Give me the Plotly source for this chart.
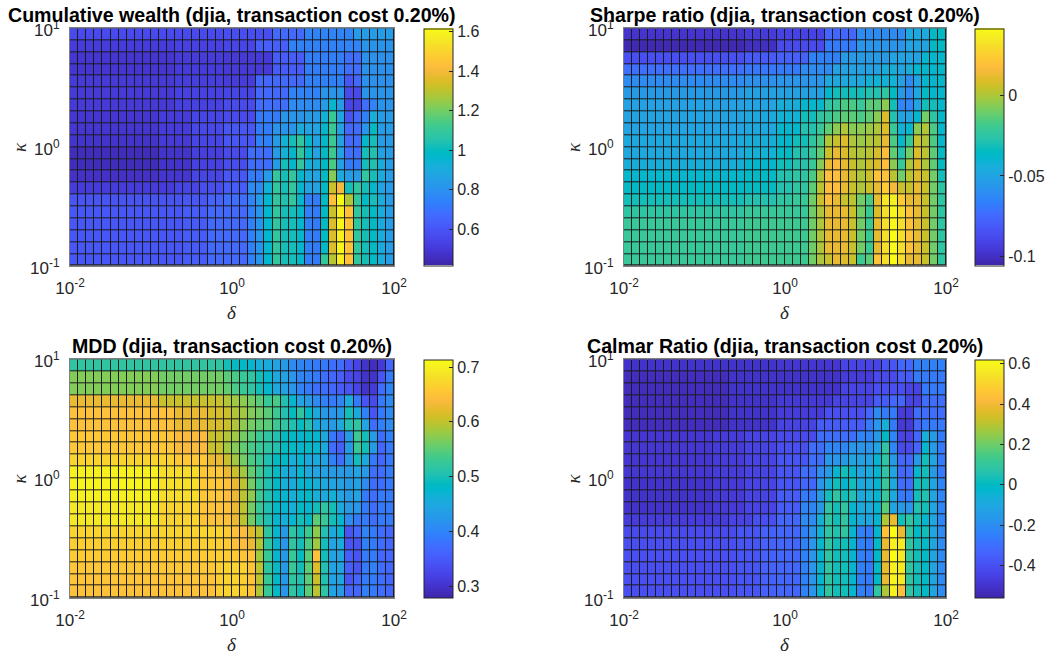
import plotly.graph_objects as go

# ---------------- data ----------------
DELTA_EDGES = [0.01, 0.012589, 0.015849, 0.019953, 0.025119, 0.031623, 0.039811, 0.050119, 0.063096, 0.079433,
               0.1, 0.12589, 0.15849, 0.19953, 0.25119, 0.31623, 0.39811, 0.50119, 0.63096, 0.79433,
               1.0, 1.2589, 1.5849, 1.9953, 2.5119, 3.1623, 3.9811, 5.0119, 6.3096, 7.9433,
               10.0, 12.589, 15.849, 19.953, 25.119, 31.623, 39.811, 50.119, 63.096, 79.433, 100.0]
KAPPA_EDGES = [0.1, 0.12589, 0.15849, 0.19953, 0.25119, 0.31623, 0.39811, 0.50119, 0.63096, 0.79433,
               1.0, 1.2589, 1.5849, 1.9953, 2.5119, 3.1623, 3.9811, 5.0119, 6.3096, 7.9433, 10.0]

X_TICKS = [0.01, 1, 100]
X_TICKTEXT = ["10<sup>-2</sup>", "10<sup>0</sup>", "10<sup>2</sup>"]
Y_TICKS = [0.1, 1, 10]
Y_TICKTEXT = ["10<sup>-1</sup>", "10<sup>0</sup>", "10<sup>1</sup>"]

TITLES = ["Cumulative wealth (djia, transaction cost 0.20%)",
          "Sharpe ratio (djia, transaction cost 0.20%)",
          "MDD (djia, transaction cost 0.20%)",
          "Calmar Ratio (djia, transaction cost 0.20%)"]

# rows: kappa from 0.1 (bottom) to 10 (top); columns: delta from 0.01 to 100
WEALTH = [
 [0.60,0.60,0.60,0.60,0.60,0.60,0.60,0.60,0.60,0.60, 0.60,0.60,0.60,0.60,0.62,0.62,0.62,0.66,0.66,0.66, 0.66,0.66,0.74,0.81,0.96,1.08,1.02,1.02,0.96,0.74, 0.72,1.08,1.29,1.58,1.44,1.08,1.02,0.98,0.90,0.84],
 [0.60,0.60,0.60,0.60,0.60,0.60,0.60,0.60,0.60,0.60, 0.60,0.60,0.60,0.60,0.62,0.62,0.62,0.66,0.66,0.66, 0.66,0.66,0.74,0.81,0.96,1.08,1.02,1.02,0.96,0.74, 0.72,0.98,1.35,1.60,1.44,1.08,1.02,0.98,0.90,0.84],
 [0.60,0.60,0.60,0.60,0.60,0.60,0.60,0.60,0.60,0.60, 0.60,0.60,0.60,0.60,0.62,0.62,0.62,0.66,0.66,0.66, 0.66,0.66,0.74,0.81,0.96,1.08,1.02,1.02,0.96,0.74, 0.72,0.98,1.35,1.58,1.44,1.08,1.02,0.98,0.90,0.84],
 [0.60,0.60,0.60,0.60,0.60,0.60,0.60,0.60,0.60,0.60, 0.60,0.60,0.60,0.60,0.62,0.62,0.62,0.66,0.66,0.66, 0.66,0.66,0.74,0.81,0.96,1.08,1.02,1.02,0.96,0.74, 0.72,0.98,1.35,1.60,1.44,1.08,1.02,0.98,0.90,0.84],
 [0.60,0.60,0.60,0.60,0.60,0.60,0.60,0.60,0.60,0.60, 0.60,0.60,0.60,0.60,0.62,0.62,0.62,0.66,0.66,0.66, 0.66,0.66,0.74,0.81,0.96,1.08,1.02,1.02,0.96,0.74, 0.72,0.98,1.32,1.58,1.44,1.08,1.02,0.98,0.90,0.84],
 [0.59,0.59,0.59,0.59,0.59,0.59,0.59,0.59,0.59,0.59, 0.59,0.59,0.59,0.59,0.60,0.60,0.60,0.64,0.64,0.68, 0.68,0.68,0.75,0.84,0.96,1.08,1.04,1.08,0.96,0.74, 0.72,0.98,1.44,1.61,1.28,1.08,0.98,1.02,0.90,0.84],
 [0.51,0.51,0.51,0.51,0.51,0.51,0.51,0.51,0.51,0.51, 0.51,0.51,0.51,0.54,0.54,0.54,0.57,0.57,0.57,0.62, 0.62,0.62,0.78,0.78,0.93,1.08,1.02,1.08,0.96,0.87, 0.87,0.98,1.32,1.40,1.02,1.08,1.02,0.96,0.87,0.84],
 [0.47,0.47,0.47,0.47,0.47,0.47,0.47,0.47,0.47,0.47, 0.47,0.49,0.49,0.49,0.49,0.54,0.54,0.54,0.54,0.60, 0.60,0.60,0.72,0.72,0.84,1.08,1.02,1.08,0.96,0.90, 0.87,0.98,1.22,0.90,0.84,0.84,1.08,1.02,0.90,0.84],
 [0.45,0.45,0.45,0.45,0.45,0.45,0.45,0.45,0.45,0.45, 0.45,0.48,0.48,0.48,0.48,0.53,0.53,0.53,0.53,0.57, 0.57,0.57,0.68,0.68,0.68,0.84,1.02,0.96,1.08,0.93, 0.90,0.98,1.14,0.86,0.72,0.72,1.02,1.04,0.90,0.84],
 [0.45,0.45,0.45,0.45,0.45,0.45,0.45,0.45,0.45,0.45, 0.45,0.48,0.48,0.48,0.48,0.52,0.52,0.52,0.52,0.56, 0.56,0.56,0.68,0.68,0.68,0.84,0.93,0.96,1.08,0.96, 0.87,0.98,1.11,0.86,0.68,0.68,1.02,1.04,0.86,0.84],
 [0.48,0.48,0.48,0.48,0.48,0.48,0.48,0.48,0.48,0.48, 0.48,0.50,0.50,0.50,0.50,0.54,0.54,0.54,0.54,0.60, 0.60,0.60,0.60,0.74,0.74,0.84,0.93,1.02,1.08,0.96, 0.87,0.96,1.11,0.86,0.66,0.68,0.96,1.02,0.84,0.84],
 [0.49,0.49,0.49,0.49,0.49,0.49,0.49,0.49,0.49,0.49, 0.49,0.51,0.51,0.51,0.51,0.55,0.55,0.55,0.55,0.60, 0.60,0.60,0.60,0.72,0.72,0.81,0.81,0.81,0.90,0.87, 0.87,0.96,1.10,0.86,0.66,0.68,0.81,0.99,0.84,0.84],
 [0.49,0.49,0.49,0.49,0.49,0.49,0.49,0.49,0.49,0.49, 0.49,0.51,0.51,0.51,0.51,0.54,0.54,0.54,0.54,0.56, 0.56,0.56,0.56,0.72,0.72,0.72,0.81,0.81,0.81,0.84, 0.84,0.93,1.10,0.87,0.59,0.66,0.74,0.92,0.84,0.84],
 [0.50,0.50,0.50,0.50,0.50,0.50,0.50,0.50,0.50,0.50, 0.50,0.50,0.50,0.53,0.53,0.53,0.53,0.53,0.53,0.56, 0.56,0.56,0.56,0.68,0.68,0.68,0.68,0.78,0.78,0.78, 0.78,0.84,0.96,0.84,0.54,0.54,0.68,0.75,0.81,0.81],
 [0.50,0.50,0.50,0.50,0.50,0.50,0.50,0.50,0.50,0.50, 0.50,0.50,0.50,0.53,0.53,0.53,0.53,0.53,0.53,0.54, 0.54,0.54,0.54,0.66,0.66,0.66,0.66,0.75,0.75,0.75, 0.75,0.81,0.81,0.81,0.56,0.56,0.81,0.81,0.81,0.81],
 [0.50,0.50,0.50,0.50,0.50,0.50,0.50,0.50,0.50,0.50, 0.50,0.50,0.50,0.52,0.52,0.52,0.52,0.52,0.52,0.51, 0.51,0.51,0.51,0.66,0.66,0.66,0.66,0.66,0.66,0.74, 0.74,0.74,0.74,0.74,0.60,0.66,0.80,0.80,0.80,0.80],
 [0.49,0.49,0.49,0.49,0.49,0.49,0.49,0.49,0.49,0.49, 0.49,0.49,0.49,0.51,0.51,0.51,0.51,0.51,0.51,0.50, 0.50,0.50,0.50,0.50,0.50,0.62,0.62,0.62,0.62,0.73, 0.73,0.73,0.73,0.73,0.68,0.68,0.80,0.80,0.80,0.80],
 [0.49,0.49,0.49,0.49,0.49,0.49,0.49,0.49,0.49,0.49, 0.49,0.49,0.49,0.51,0.51,0.51,0.51,0.51,0.51,0.50, 0.50,0.50,0.50,0.50,0.50,0.62,0.62,0.62,0.62,0.73, 0.73,0.73,0.73,0.73,0.68,0.68,0.80,0.80,0.80,0.80],
 [0.51,0.51,0.51,0.51,0.51,0.51,0.51,0.51,0.51,0.51, 0.51,0.51,0.51,0.53,0.53,0.53,0.53,0.53,0.53,0.54, 0.54,0.54,0.54,0.63,0.63,0.63,0.63,0.74,0.74,0.74, 0.74,0.74,0.74,0.74,0.75,0.75,0.81,0.81,0.81,0.81],
 [0.56,0.56,0.56,0.56,0.56,0.56,0.56,0.56,0.56,0.56, 0.56,0.56,0.56,0.56,0.56,0.56,0.56,0.56,0.56,0.57, 0.57,0.57,0.57,0.57,0.57,0.66,0.66,0.66,0.66,0.75, 0.75,0.75,0.75,0.75,0.75,0.84,0.84,0.84,0.84,0.84],
]

SHARPE = [
 [-0.022,-0.022,-0.022,-0.022,-0.022,-0.022,-0.022,-0.022,-0.022,-0.022, -0.022,-0.022,-0.022,-0.022,-0.022,-0.020,-0.020,-0.020,-0.020,-0.020, -0.020,-0.020,-0.020,-0.010,0.000,0.005,0.012,0.009,0.005,-0.020, -0.014,0.020,0.031,0.042,0.030,0.012,0.012,0.005,-0.010,-0.025],
 [-0.022,-0.022,-0.022,-0.022,-0.022,-0.022,-0.022,-0.022,-0.022,-0.022, -0.022,-0.022,-0.022,-0.022,-0.022,-0.020,-0.020,-0.020,-0.020,-0.020, -0.020,-0.020,-0.020,-0.010,0.000,0.012,0.012,0.012,0.005,-0.010, -0.020,0.012,0.031,0.041,0.031,0.020,0.012,0.005,-0.010,-0.025],
 [-0.022,-0.022,-0.022,-0.022,-0.022,-0.022,-0.022,-0.022,-0.022,-0.022, -0.022,-0.022,-0.022,-0.022,-0.022,-0.020,-0.020,-0.020,-0.020,-0.020, -0.020,-0.020,-0.020,-0.010,0.000,0.012,0.012,0.012,0.005,-0.010, -0.020,0.012,0.031,0.042,0.031,0.020,0.012,0.005,-0.010,-0.025],
 [-0.022,-0.022,-0.022,-0.022,-0.022,-0.022,-0.022,-0.022,-0.022,-0.022, -0.022,-0.022,-0.022,-0.022,-0.022,-0.020,-0.020,-0.020,-0.020,-0.020, -0.020,-0.020,-0.020,-0.010,0.000,0.012,0.012,0.012,0.005,-0.010, -0.020,0.012,0.031,0.040,0.031,0.020,0.012,0.005,-0.010,-0.025],
 [-0.025,-0.025,-0.025,-0.025,-0.025,-0.025,-0.025,-0.025,-0.025,-0.025, -0.025,-0.025,-0.025,-0.025,-0.025,-0.022,-0.022,-0.022,-0.022,-0.022, -0.022,-0.022,-0.022,-0.010,0.000,0.012,0.012,0.012,0.005,-0.010, -0.020,0.009,0.031,0.040,0.031,0.020,0.012,0.005,-0.010,-0.025],
 [-0.032,-0.032,-0.032,-0.032,-0.032,-0.032,-0.032,-0.032,-0.032,-0.032, -0.032,-0.032,-0.032,-0.032,-0.032,-0.029,-0.029,-0.029,-0.029,-0.025, -0.025,-0.022,-0.022,-0.010,0.005,0.018,0.012,0.005,0.002,-0.010, -0.017,0.012,0.034,0.037,0.024,0.012,0.012,0.005,-0.010,-0.025],
 [-0.036,-0.036,-0.036,-0.036,-0.036,-0.036,-0.036,-0.036,-0.036,-0.036, -0.036,-0.036,-0.036,-0.036,-0.036,-0.035,-0.035,-0.035,-0.035,-0.029, -0.029,-0.025,-0.025,-0.014,0.002,0.017,0.018,0.012,0.005,0.000, 0.005,0.012,0.024,0.015,0.005,0.005,0.012,0.005,-0.010,-0.025],
 [-0.039,-0.039,-0.039,-0.039,-0.039,-0.039,-0.039,-0.039,-0.039,-0.039, -0.039,-0.039,-0.039,-0.039,-0.039,-0.036,-0.036,-0.036,-0.036,-0.029, -0.029,-0.025,-0.025,-0.017,0.000,0.018,0.018,0.012,0.005,0.000, 0.005,0.020,0.020,0.002,-0.010,0.002,0.009,0.005,-0.010,-0.032],
 [-0.044,-0.044,-0.044,-0.044,-0.044,-0.044,-0.044,-0.044,-0.044,-0.044, -0.044,-0.044,-0.044,-0.044,-0.044,-0.039,-0.039,-0.039,-0.039,-0.032, -0.032,-0.028,-0.028,-0.022,-0.007,0.012,0.017,0.012,0.005,0.000, 0.005,0.009,0.018,-0.006,-0.022,0.000,0.009,0.000,-0.013,-0.035],
 [-0.047,-0.047,-0.047,-0.047,-0.047,-0.047,-0.047,-0.047,-0.047,-0.047, -0.047,-0.047,-0.047,-0.047,-0.047,-0.042,-0.042,-0.042,-0.042,-0.036, -0.036,-0.029,-0.029,-0.022,-0.013,0.005,0.012,0.009,0.002,0.000, 0.002,0.008,0.018,-0.013,-0.029,-0.010,0.009,0.002,-0.014,-0.036],
 [-0.047,-0.047,-0.047,-0.047,-0.047,-0.047,-0.047,-0.047,-0.047,-0.047, -0.047,-0.047,-0.047,-0.047,-0.047,-0.044,-0.044,-0.044,-0.044,-0.039, -0.039,-0.032,-0.032,-0.025,-0.017,0.000,0.005,0.009,0.000,-0.003, 0.000,0.002,0.012,-0.017,-0.039,-0.022,0.005,0.000,-0.017,-0.039],
 [-0.050,-0.050,-0.050,-0.050,-0.050,-0.050,-0.050,-0.050,-0.050,-0.050, -0.050,-0.050,-0.050,-0.050,-0.050,-0.047,-0.047,-0.047,-0.047,-0.039, -0.039,-0.039,-0.029,-0.029,-0.022,-0.013,-0.006,0.000,-0.006,-0.006, -0.003,0.000,0.009,-0.022,-0.042,-0.039,-0.006,0.000,-0.017,-0.039],
 [-0.050,-0.050,-0.050,-0.050,-0.050,-0.050,-0.050,-0.050,-0.050,-0.050, -0.050,-0.050,-0.050,-0.050,-0.050,-0.047,-0.047,-0.047,-0.047,-0.042, -0.042,-0.042,-0.032,-0.032,-0.025,-0.022,-0.017,-0.014,-0.014,-0.017, -0.013,-0.006,0.009,-0.029,-0.050,-0.050,-0.039,-0.010,-0.025,-0.039],
 [-0.051,-0.051,-0.051,-0.051,-0.051,-0.051,-0.051,-0.051,-0.051,-0.051, -0.051,-0.051,-0.051,-0.051,-0.051,-0.050,-0.050,-0.050,-0.050,-0.044, -0.044,-0.044,-0.039,-0.039,-0.039,-0.025,-0.022,-0.017,-0.017,-0.022, -0.014,-0.014,-0.006,-0.032,-0.064,-0.064,-0.050,-0.032,-0.032,-0.039],
 [-0.054,-0.054,-0.054,-0.054,-0.054,-0.054,-0.054,-0.054,-0.054,-0.054, -0.054,-0.054,-0.054,-0.054,-0.054,-0.051,-0.051,-0.051,-0.051,-0.051, -0.051,-0.051,-0.051,-0.051,-0.051,-0.039,-0.032,-0.032,-0.032,-0.032, -0.029,-0.029,-0.025,-0.036,-0.054,-0.061,-0.047,-0.036,-0.039,-0.039],
 [-0.061,-0.061,-0.061,-0.061,-0.061,-0.061,-0.061,-0.061,-0.061,-0.061, -0.061,-0.061,-0.061,-0.061,-0.061,-0.059,-0.059,-0.059,-0.059,-0.057, -0.057,-0.057,-0.057,-0.057,-0.057,-0.047,-0.047,-0.047,-0.047,-0.047, -0.042,-0.042,-0.042,-0.042,-0.051,-0.061,-0.050,-0.039,-0.039,-0.039],
 [-0.073,-0.073,-0.073,-0.073,-0.073,-0.073,-0.073,-0.073,-0.073,-0.073, -0.073,-0.073,-0.073,-0.073,-0.073,-0.070,-0.070,-0.070,-0.070,-0.069, -0.069,-0.069,-0.061,-0.061,-0.061,-0.061,-0.051,-0.051,-0.051,-0.051, -0.051,-0.051,-0.044,-0.044,-0.050,-0.044,-0.039,-0.039,-0.039,-0.039],
 [-0.086,-0.086,-0.086,-0.086,-0.086,-0.086,-0.086,-0.086,-0.086,-0.086, -0.086,-0.086,-0.086,-0.086,-0.086,-0.082,-0.082,-0.082,-0.082,-0.079, -0.079,-0.079,-0.079,-0.066,-0.066,-0.066,-0.066,-0.054,-0.054,-0.054, -0.054,-0.054,-0.054,-0.050,-0.050,-0.050,-0.050,-0.039,-0.039,-0.039],
 [-0.103,-0.103,-0.103,-0.103,-0.103,-0.103,-0.103,-0.103,-0.103,-0.103, -0.103,-0.103,-0.103,-0.103,-0.103,-0.100,-0.100,-0.100,-0.100,-0.088, -0.088,-0.088,-0.088,-0.088,-0.088,-0.069,-0.069,-0.069,-0.069,-0.057, -0.057,-0.057,-0.057,-0.057,-0.057,-0.050,-0.050,-0.050,-0.036,-0.036],
 [-0.098,-0.098,-0.098,-0.098,-0.098,-0.098,-0.098,-0.098,-0.098,-0.098, -0.098,-0.098,-0.098,-0.098,-0.098,-0.095,-0.095,-0.095,-0.095,-0.091, -0.091,-0.091,-0.091,-0.091,-0.091,-0.076,-0.076,-0.076,-0.076,-0.061, -0.061,-0.061,-0.061,-0.061,-0.061,-0.047,-0.047,-0.047,-0.036,-0.036],
]

MDD = [
 [0.649,0.649,0.649,0.649,0.649,0.649,0.649,0.649,0.649,0.649, 0.649,0.649,0.649,0.649,0.649,0.649,0.649,0.649,0.666,0.671, 0.671,0.666,0.653,0.592,0.527,0.483,0.423,0.518,0.497,0.549, 0.597,0.518,0.444,0.431,0.366,0.366,0.396,0.388,0.375,0.366],
 [0.653,0.653,0.653,0.653,0.653,0.653,0.653,0.653,0.653,0.653, 0.653,0.653,0.653,0.653,0.653,0.653,0.653,0.653,0.666,0.671, 0.671,0.666,0.653,0.597,0.527,0.483,0.431,0.518,0.505,0.549, 0.605,0.505,0.444,0.444,0.344,0.366,0.388,0.388,0.375,0.366],
 [0.657,0.657,0.657,0.657,0.657,0.657,0.657,0.657,0.657,0.657, 0.657,0.657,0.657,0.657,0.657,0.657,0.657,0.657,0.666,0.671, 0.671,0.666,0.653,0.597,0.518,0.488,0.431,0.527,0.497,0.549, 0.618,0.505,0.444,0.444,0.357,0.344,0.388,0.396,0.375,0.366],
 [0.662,0.662,0.662,0.662,0.662,0.662,0.662,0.662,0.662,0.662, 0.662,0.662,0.662,0.662,0.662,0.662,0.662,0.662,0.666,0.662, 0.662,0.653,0.653,0.584,0.527,0.475,0.431,0.527,0.488,0.549, 0.649,0.497,0.444,0.444,0.357,0.344,0.388,0.388,0.366,0.366],
 [0.666,0.666,0.666,0.666,0.666,0.666,0.666,0.666,0.666,0.666, 0.666,0.666,0.666,0.666,0.666,0.666,0.666,0.666,0.666,0.662, 0.649,0.644,0.627,0.592,0.518,0.475,0.423,0.518,0.497,0.540, 0.584,0.497,0.444,0.453,0.344,0.344,0.396,0.388,0.375,0.366],
 [0.671,0.671,0.671,0.671,0.671,0.671,0.671,0.671,0.671,0.671, 0.671,0.671,0.671,0.671,0.671,0.671,0.671,0.671,0.671,0.662, 0.649,0.644,0.618,0.597,0.518,0.475,0.431,0.518,0.497,0.531, 0.575,0.505,0.453,0.475,0.344,0.366,0.401,0.388,0.375,0.366],
 [0.692,0.692,0.692,0.692,0.692,0.692,0.692,0.692,0.692,0.692, 0.692,0.671,0.671,0.671,0.671,0.671,0.653,0.653,0.653,0.649, 0.627,0.597,0.562,0.527,0.505,0.475,0.462,0.475,0.497,0.483, 0.549,0.527,0.497,0.475,0.410,0.388,0.388,0.375,0.388,0.388],
 [0.692,0.692,0.692,0.692,0.692,0.692,0.692,0.692,0.692,0.692, 0.692,0.671,0.671,0.671,0.671,0.671,0.653,0.653,0.653,0.649, 0.627,0.597,0.562,0.527,0.505,0.483,0.475,0.462,0.483,0.475, 0.497,0.518,0.497,0.453,0.431,0.423,0.388,0.375,0.388,0.388],
 [0.701,0.701,0.701,0.701,0.701,0.701,0.701,0.701,0.701,0.701, 0.701,0.679,0.679,0.679,0.679,0.679,0.657,0.657,0.657,0.644, 0.627,0.597,0.575,0.531,0.505,0.483,0.475,0.462,0.475,0.483, 0.462,0.453,0.466,0.444,0.431,0.444,0.388,0.375,0.388,0.388],
 [0.705,0.705,0.705,0.705,0.705,0.705,0.705,0.705,0.705,0.705, 0.705,0.684,0.684,0.684,0.684,0.684,0.657,0.657,0.657,0.649, 0.627,0.597,0.562,0.531,0.505,0.483,0.462,0.453,0.475,0.475, 0.462,0.453,0.444,0.440,0.431,0.444,0.410,0.375,0.375,0.388],
 [0.701,0.701,0.701,0.701,0.701,0.701,0.701,0.701,0.701,0.701, 0.701,0.679,0.679,0.679,0.679,0.679,0.657,0.657,0.657,0.627, 0.605,0.584,0.553,0.531,0.505,0.488,0.462,0.453,0.475,0.453, 0.444,0.440,0.431,0.431,0.431,0.444,0.431,0.375,0.375,0.388],
 [0.671,0.671,0.671,0.671,0.671,0.671,0.671,0.671,0.671,0.671, 0.671,0.671,0.671,0.657,0.657,0.657,0.657,0.627,0.627,0.605, 0.584,0.562,0.540,0.527,0.505,0.488,0.483,0.462,0.475,0.453, 0.453,0.444,0.396,0.375,0.431,0.497,0.453,0.388,0.366,0.388],
 [0.657,0.657,0.657,0.657,0.657,0.657,0.657,0.657,0.657,0.657, 0.657,0.657,0.657,0.640,0.640,0.640,0.640,0.605,0.605,0.584, 0.570,0.553,0.540,0.527,0.518,0.505,0.488,0.483,0.475,0.483, 0.475,0.453,0.375,0.357,0.431,0.527,0.497,0.431,0.366,0.388],
 [0.657,0.657,0.657,0.657,0.657,0.657,0.657,0.657,0.657,0.657, 0.657,0.657,0.657,0.640,0.640,0.640,0.640,0.605,0.605,0.592, 0.584,0.562,0.549,0.531,0.518,0.505,0.488,0.483,0.475,0.483, 0.475,0.453,0.388,0.366,0.431,0.531,0.497,0.431,0.375,0.396],
 [0.649,0.649,0.649,0.649,0.649,0.649,0.649,0.649,0.649,0.649, 0.649,0.649,0.649,0.627,0.627,0.627,0.627,0.614,0.614,0.605, 0.592,0.575,0.562,0.553,0.549,0.531,0.518,0.505,0.488,0.505, 0.453,0.444,0.431,0.453,0.505,0.518,0.444,0.375,0.396,0.410],
 [0.649,0.649,0.649,0.649,0.649,0.649,0.649,0.649,0.649,0.649, 0.649,0.649,0.649,0.627,0.627,0.627,0.627,0.614,0.614,0.605, 0.592,0.584,0.570,0.562,0.549,0.531,0.505,0.488,0.518,0.483, 0.453,0.431,0.423,0.431,0.497,0.453,0.396,0.344,0.388,0.410],
 [0.627,0.627,0.627,0.627,0.627,0.627,0.627,0.627,0.627,0.627, 0.627,0.605,0.605,0.605,0.605,0.605,0.605,0.605,0.605,0.592, 0.584,0.575,0.562,0.549,0.527,0.540,0.505,0.475,0.444,0.431, 0.410,0.396,0.388,0.401,0.453,0.388,0.344,0.331,0.388,0.410],
 [0.570,0.570,0.570,0.570,0.570,0.570,0.570,0.570,0.570,0.570, 0.570,0.562,0.562,0.562,0.562,0.562,0.562,0.562,0.562,0.553, 0.540,0.527,0.518,0.497,0.475,0.453,0.440,0.423,0.401,0.388, 0.375,0.375,0.366,0.353,0.344,0.323,0.301,0.309,0.375,0.401],
 [0.570,0.570,0.570,0.570,0.570,0.570,0.570,0.570,0.570,0.570, 0.570,0.562,0.562,0.562,0.562,0.562,0.562,0.562,0.562,0.549, 0.540,0.527,0.518,0.497,0.475,0.453,0.440,0.423,0.401,0.396, 0.388,0.375,0.366,0.357,0.331,0.323,0.301,0.301,0.344,0.388],
 [0.518,0.518,0.518,0.518,0.518,0.518,0.518,0.518,0.518,0.518, 0.518,0.518,0.518,0.518,0.518,0.518,0.518,0.518,0.518,0.497, 0.488,0.483,0.475,0.462,0.453,0.444,0.431,0.410,0.401,0.396, 0.388,0.388,0.375,0.375,0.344,0.323,0.301,0.292,0.309,0.366],
]

CALMAR = [
 [-0.405,-0.405,-0.405,-0.405,-0.405,-0.405,-0.405,-0.405,-0.405,-0.405, -0.405,-0.405,-0.405,-0.405,-0.381,-0.381,-0.381,-0.346,-0.346,-0.322, -0.322,-0.322,-0.240,-0.169,-0.027,0.090,0.032,0.032,-0.027,-0.240, -0.263,0.090,0.291,0.586,0.444,0.090,0.032,-0.004,-0.110,-0.204],
 [-0.405,-0.405,-0.405,-0.405,-0.405,-0.405,-0.405,-0.405,-0.405,-0.405, -0.405,-0.405,-0.405,-0.405,-0.381,-0.381,-0.381,-0.346,-0.346,-0.322, -0.322,-0.322,-0.240,-0.169,-0.027,0.090,0.032,0.032,-0.027,-0.240, -0.263,-0.004,0.385,0.600,0.562,0.090,0.032,-0.004,-0.110,-0.204],
 [-0.405,-0.405,-0.405,-0.405,-0.405,-0.405,-0.405,-0.405,-0.405,-0.405, -0.405,-0.405,-0.405,-0.405,-0.381,-0.381,-0.381,-0.346,-0.346,-0.322, -0.322,-0.322,-0.240,-0.169,-0.027,0.090,0.032,0.032,-0.027,-0.240, -0.263,-0.004,0.385,0.586,0.562,0.090,0.032,-0.004,-0.110,-0.204],
 [-0.405,-0.405,-0.405,-0.405,-0.405,-0.405,-0.405,-0.405,-0.405,-0.405, -0.405,-0.405,-0.405,-0.405,-0.381,-0.381,-0.381,-0.346,-0.346,-0.322, -0.322,-0.322,-0.240,-0.169,-0.027,0.090,0.032,0.032,-0.027,-0.240, -0.263,-0.004,0.385,0.621,0.562,0.090,0.032,-0.004,-0.110,-0.204],
 [-0.405,-0.405,-0.405,-0.405,-0.405,-0.405,-0.405,-0.405,-0.405,-0.405, -0.405,-0.405,-0.405,-0.405,-0.381,-0.381,-0.381,-0.346,-0.346,-0.322, -0.322,-0.322,-0.240,-0.169,-0.027,0.090,0.032,0.032,-0.027,-0.240, -0.263,-0.004,0.385,0.586,0.562,0.090,0.032,-0.004,-0.110,-0.204],
 [-0.417,-0.417,-0.417,-0.417,-0.417,-0.417,-0.417,-0.417,-0.417,-0.417, -0.417,-0.417,-0.417,-0.417,-0.381,-0.381,-0.381,-0.346,-0.346,-0.322, -0.322,-0.322,-0.240,-0.169,-0.051,0.090,0.055,0.090,-0.027,-0.240, -0.263,-0.027,0.444,0.621,0.385,0.090,-0.004,0.032,-0.110,-0.204],
 [-0.464,-0.464,-0.464,-0.464,-0.464,-0.464,-0.464,-0.464,-0.464,-0.464, -0.464,-0.464,-0.464,-0.440,-0.440,-0.440,-0.405,-0.405,-0.405,-0.322, -0.322,-0.322,-0.204,-0.204,-0.051,0.090,0.032,0.090,-0.027,-0.086, -0.110,-0.027,0.291,0.385,0.032,0.090,0.032,-0.027,-0.110,-0.228],
 [-0.499,-0.499,-0.499,-0.499,-0.499,-0.499,-0.499,-0.499,-0.499,-0.499, -0.499,-0.475,-0.475,-0.475,-0.475,-0.440,-0.440,-0.440,-0.440,-0.358, -0.358,-0.358,-0.228,-0.228,-0.145,0.090,0.032,0.090,-0.027,-0.086, -0.086,-0.027,0.173,-0.110,-0.145,-0.169,0.055,0.032,-0.110,-0.228],
 [-0.499,-0.499,-0.499,-0.499,-0.499,-0.499,-0.499,-0.499,-0.499,-0.499, -0.499,-0.475,-0.475,-0.475,-0.475,-0.440,-0.440,-0.440,-0.440,-0.358, -0.358,-0.358,-0.263,-0.263,-0.145,0.032,0.090,0.032,0.055,-0.086, -0.063,-0.027,0.114,-0.086,-0.263,-0.263,0.032,0.055,-0.110,-0.228],
 [-0.499,-0.499,-0.499,-0.499,-0.499,-0.499,-0.499,-0.499,-0.499,-0.499, -0.499,-0.475,-0.475,-0.475,-0.475,-0.440,-0.440,-0.440,-0.440,-0.381, -0.381,-0.381,-0.322,-0.322,-0.169,-0.063,0.032,-0.027,0.032,-0.086, -0.086,-0.027,0.114,-0.086,-0.299,-0.299,0.032,0.032,-0.110,-0.228],
 [-0.487,-0.487,-0.487,-0.487,-0.487,-0.487,-0.487,-0.487,-0.487,-0.487, -0.487,-0.464,-0.464,-0.464,-0.464,-0.440,-0.440,-0.440,-0.440,-0.381, -0.381,-0.381,-0.299,-0.299,-0.204,-0.145,-0.027,0.032,-0.027,-0.110, -0.086,-0.027,0.090,-0.110,-0.322,-0.299,-0.027,0.032,-0.145,-0.263],
 [-0.487,-0.487,-0.487,-0.487,-0.487,-0.487,-0.487,-0.487,-0.487,-0.487, -0.487,-0.464,-0.464,-0.464,-0.464,-0.440,-0.440,-0.440,-0.440,-0.381, -0.381,-0.381,-0.381,-0.299,-0.299,-0.169,-0.169,-0.145,-0.110,-0.122, -0.122,-0.027,0.090,-0.145,-0.322,-0.322,-0.145,0.032,-0.110,-0.263],
 [-0.487,-0.487,-0.487,-0.487,-0.487,-0.487,-0.487,-0.487,-0.487,-0.487, -0.487,-0.464,-0.464,-0.464,-0.464,-0.440,-0.440,-0.440,-0.440,-0.405, -0.405,-0.405,-0.405,-0.299,-0.299,-0.228,-0.228,-0.228,-0.169,-0.169, -0.169,-0.110,0.090,-0.228,-0.417,-0.417,-0.322,-0.027,-0.145,-0.263],
 [-0.487,-0.487,-0.487,-0.487,-0.487,-0.487,-0.487,-0.487,-0.487,-0.487, -0.487,-0.464,-0.464,-0.464,-0.464,-0.440,-0.440,-0.440,-0.440,-0.417, -0.417,-0.417,-0.417,-0.417,-0.299,-0.299,-0.299,-0.299,-0.299,-0.228, -0.228,-0.145,-0.004,-0.228,-0.440,-0.440,-0.322,-0.063,-0.145,-0.263],
 [-0.523,-0.523,-0.523,-0.523,-0.523,-0.523,-0.523,-0.523,-0.523,-0.523, -0.523,-0.523,-0.523,-0.499,-0.499,-0.499,-0.499,-0.499,-0.499,-0.440, -0.440,-0.440,-0.440,-0.440,-0.358,-0.358,-0.358,-0.358,-0.358,-0.358, -0.263,-0.169,-0.063,-0.263,-0.475,-0.475,-0.322,-0.263,-0.263,-0.263],
 [-0.523,-0.523,-0.523,-0.523,-0.523,-0.523,-0.523,-0.523,-0.523,-0.523, -0.523,-0.523,-0.523,-0.499,-0.499,-0.499,-0.499,-0.499,-0.499,-0.464, -0.464,-0.464,-0.464,-0.464,-0.464,-0.405,-0.405,-0.405,-0.405,-0.405, -0.322,-0.204,-0.263,-0.263,-0.464,-0.464,-0.299,-0.299,-0.299,-0.299],
 [-0.523,-0.523,-0.523,-0.523,-0.523,-0.523,-0.523,-0.523,-0.523,-0.523, -0.523,-0.523,-0.523,-0.499,-0.499,-0.499,-0.499,-0.499,-0.499,-0.475, -0.475,-0.475,-0.475,-0.475,-0.475,-0.475,-0.440,-0.440,-0.440,-0.440, -0.440,-0.358,-0.358,-0.322,-0.322,-0.440,-0.440,-0.299,-0.299,-0.299],
 [-0.523,-0.523,-0.523,-0.523,-0.523,-0.523,-0.523,-0.523,-0.523,-0.523, -0.523,-0.523,-0.523,-0.499,-0.499,-0.499,-0.499,-0.499,-0.499,-0.499, -0.499,-0.499,-0.499,-0.499,-0.499,-0.499,-0.499,-0.440,-0.440,-0.440, -0.440,-0.405,-0.405,-0.405,-0.405,-0.440,-0.440,-0.263,-0.263,-0.263],
 [-0.523,-0.523,-0.523,-0.523,-0.523,-0.523,-0.523,-0.523,-0.523,-0.523, -0.523,-0.523,-0.523,-0.499,-0.499,-0.499,-0.499,-0.499,-0.499,-0.499, -0.499,-0.499,-0.499,-0.499,-0.499,-0.499,-0.499,-0.464,-0.464,-0.464, -0.464,-0.417,-0.417,-0.417,-0.358,-0.358,-0.263,-0.263,-0.263,-0.263],
 [-0.499,-0.499,-0.499,-0.499,-0.499,-0.499,-0.499,-0.499,-0.499,-0.499, -0.499,-0.499,-0.499,-0.499,-0.499,-0.499,-0.499,-0.499,-0.499,-0.487, -0.487,-0.487,-0.487,-0.487,-0.487,-0.487,-0.487,-0.440,-0.440,-0.440, -0.440,-0.440,-0.381,-0.381,-0.322,-0.322,-0.240,-0.240,-0.240,-0.240],
]

COLOR_RANGES = [(0.417, 1.615), (-0.1056, 0.0416), (0.279, 0.714), (-0.558, 0.621)]
CBAR_TICKS = [[0.6, 0.8, 1.0, 1.2, 1.4, 1.6], [-0.1, -0.05, 0.0], [0.3, 0.4, 0.5, 0.6, 0.7], [-0.4, -0.2, 0.0, 0.2, 0.4, 0.6]]
CBAR_TICKTEXT = [["0.6", "0.8", "1", "1.2", "1.4", "1.6"], ["-0.1", "-0.05", "0"],
                 ["0.3", "0.4", "0.5", "0.6", "0.7"], ["-0.4", "-0.2", "0", "0.2", "0.4", "0.6"]]

# ---------------- style ----------------
PARULA = [
    (0.2422, 0.1504, 0.6603), (0.2504, 0.1650, 0.7076), (0.2578, 0.1818, 0.7511), (0.2647, 0.1978, 0.7952),
    (0.2706, 0.2147, 0.8364), (0.2751, 0.2342, 0.8710), (0.2783, 0.2559, 0.8991), (0.2803, 0.2782, 0.9221),
    (0.2813, 0.3006, 0.9414), (0.2810, 0.3228, 0.9579), (0.2795, 0.3447, 0.9717), (0.2760, 0.3667, 0.9829),
    (0.2699, 0.3892, 0.9906), (0.2602, 0.4123, 0.9952), (0.2440, 0.4358, 0.9988), (0.2206, 0.4603, 0.9973),
    (0.1963, 0.4847, 0.9892), (0.1834, 0.5074, 0.9798), (0.1786, 0.5289, 0.9682), (0.1764, 0.5499, 0.9520),
    (0.1687, 0.5703, 0.9359), (0.1540, 0.5902, 0.9218), (0.1460, 0.6091, 0.9079), (0.1380, 0.6276, 0.8973),
    (0.1248, 0.6459, 0.8883), (0.1113, 0.6635, 0.8763), (0.0952, 0.6798, 0.8598), (0.0689, 0.6948, 0.8394),
    (0.0297, 0.7082, 0.8163), (0.0036, 0.7203, 0.7917), (0.0067, 0.7312, 0.7660), (0.0433, 0.7411, 0.7394),
    (0.0964, 0.7500, 0.7120), (0.1408, 0.7584, 0.6842), (0.1717, 0.7670, 0.6554), (0.1938, 0.7758, 0.6251),
    (0.2161, 0.7843, 0.5923), (0.2470, 0.7918, 0.5567), (0.2906, 0.7973, 0.5188), (0.3406, 0.8008, 0.4789),
    (0.3909, 0.8029, 0.4354), (0.4456, 0.8024, 0.3909), (0.5044, 0.7993, 0.3480), (0.5616, 0.7942, 0.3045),
    (0.6174, 0.7876, 0.2612), (0.6720, 0.7793, 0.2227), (0.7242, 0.7698, 0.1910), (0.7738, 0.7598, 0.1646),
    (0.8203, 0.7498, 0.1535), (0.8634, 0.7406, 0.1596), (0.9035, 0.7330, 0.1774), (0.9393, 0.7288, 0.2100),
    (0.9728, 0.7298, 0.2394), (0.9956, 0.7434, 0.2371), (0.9970, 0.7659, 0.2199), (0.9952, 0.7893, 0.2028),
    (0.9892, 0.8136, 0.1885), (0.9786, 0.8386, 0.1766), (0.9676, 0.8639, 0.1643), (0.9610, 0.8890, 0.1537),
    (0.9597, 0.9135, 0.1423), (0.9628, 0.9373, 0.1265), (0.9691, 0.9606, 0.1064), (0.9769, 0.9839, 0.0805)]
n = len(PARULA) - 1
PARULA_SCALE = [[i / n, "rgb(%d,%d,%d)" % tuple(round(c * 255) for c in rgb)] for i, rgb in enumerate(PARULA)]

W, H = 1057, 662
# pixel boxes: (left, right), (top, bottom), colorbar left
PANELS = [((70, 394), (28.3, 265.7), 424),
          ((624, 946), (28.3, 265.7), 975),
          ((70, 394), (359.3, 597.7), 424),
          ((624, 946), (359.3, 597.7), 975)]

SANS = "Liberation Sans, Arial, Helvetica, sans-serif"
SERIF = "Liberation Serif, Times New Roman, serif"
TXT = "#262626"

fig = go.Figure()
DATA = [WEALTH, SHARPE, MDD, CALMAR]
annotations = []
layout_axes = {}
for i, (Z, ((l, r), (t, b), cbl)) in enumerate(zip(DATA, PANELS)):
    k = "" if i == 0 else str(i + 1)
    zmin, zmax = COLOR_RANGES[i]
    fig.add_trace(go.Heatmap(
        z=Z, x=DELTA_EDGES, y=KAPPA_EDGES, xaxis="x" + k, yaxis="y" + k,
        colorscale=PARULA_SCALE, zmin=zmin, zmax=zmax, xgap=1, ygap=1,
        hoverinfo="skip",
        colorbar=dict(x=cbl / W, xanchor="left", xpad=0, ypad=0,
                      y=1 - (t + b) / 2 / H, yanchor="middle",
                      len=(b - t) / H, lenmode="fraction",
                      thickness=29, thicknessmode="pixels",
                      outlinewidth=1, outlinecolor=TXT,
                      tickmode="array", tickvals=CBAR_TICKS[i], ticktext=CBAR_TICKTEXT[i],
                      ticks="inside", ticklen=4, tickcolor=TXT,
                      tickfont=dict(family=SANS, size=16, color=TXT)),
    ))
    layout_axes["xaxis" + k] = dict(
        domain=[l / W, r / W], anchor="y" + k, type="log", range=[-2, 2],
        tickmode="array", tickvals=X_TICKS, ticktext=X_TICKTEXT,
        ticks="outside", ticklen=7, tickcolor="rgba(0,0,0,0)",
        tickfont=dict(family=SANS, size=17, color=TXT), automargin=False,
        showgrid=False, zeroline=False, showline=True, mirror=True,
        linecolor="#808080", linewidth=1, fixedrange=True)
    layout_axes["yaxis" + k] = dict(
        domain=[1 - b / H, 1 - t / H], anchor="x" + k, type="log", range=[-1, 1],
        tickmode="array", tickvals=Y_TICKS, ticktext=Y_TICKTEXT,
        ticks="outside", ticklen=6, tickcolor="rgba(0,0,0,0)", ticklabelshift=2,
        tickfont=dict(family=SANS, size=17, color=TXT), automargin=False,
        showgrid=False, zeroline=False, showline=True, mirror=True,
        linecolor="#808080", linewidth=1, fixedrange=True)
    cx = (l + r) / 2 / W
    annotations.append(dict(text="<b>%s</b>" % TITLES[i], x=cx, y=1 - (t - 13.5) / H,
                            xref="paper", yref="paper", xanchor="center", yanchor="middle",
                            showarrow=False, font=dict(family=SANS, size=19.6, color="black")))
    annotations.append(dict(text="<i>δ</i>", x=cx, y=1 - (b + 47) / H,
                            xref="paper", yref="paper", xanchor="center", yanchor="middle",
                            showarrow=False, font=dict(family=SERIF, size=19, color=TXT)))
    annotations.append(dict(text="<i>κ</i>", x=(l - 51) / W, y=1 - (t + b) / 2 / H,
                            xref="paper", yref="paper", xanchor="center", yanchor="middle",
                            textangle=-90, showarrow=False,
                            font=dict(family=SERIF, size=19, color=TXT)))

fig.update_layout(
    width=W, height=H, autosize=False,
    margin=dict(l=0, r=0, t=0, b=0, pad=0, autoexpand=False),
    paper_bgcolor="white", plot_bgcolor="#1c1c1c",
    showlegend=False, annotations=annotations, **layout_axes)

fig.write_html("out.html", config={"displayModeBar": False, "responsive": False},
               post_script="document.body.style.margin='0px';document.body.style.padding='0px';")
